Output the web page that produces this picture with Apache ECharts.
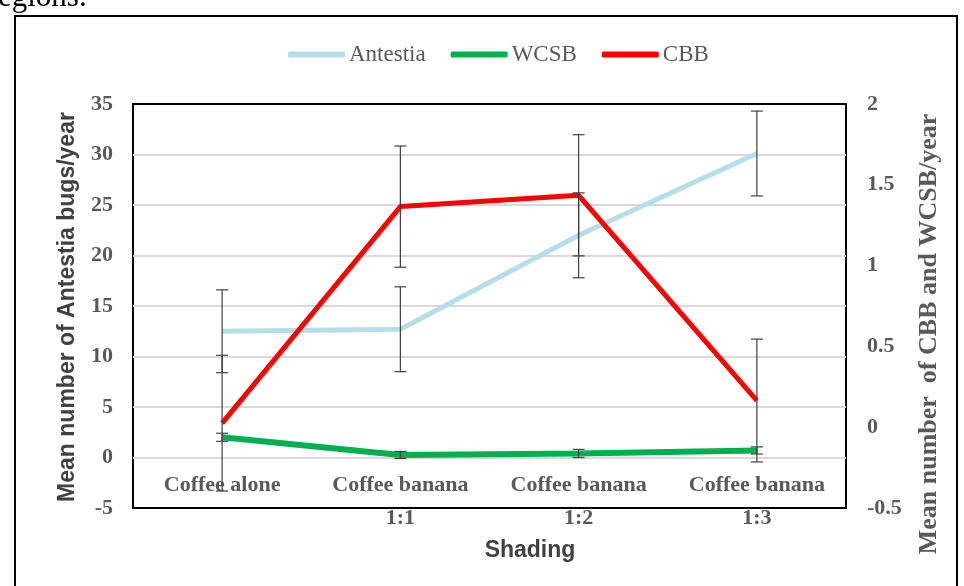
<!DOCTYPE html>
<html>
<head>
<meta charset="utf-8">
<script src="https://cdn.jsdelivr.net/npm/echarts@6/dist/echarts.min.js"></script>
<style>
html, body { margin: 0; padding: 0; background: #fff; }
#main { width: 964px; height: 586px; }
</style>
</head>
<body>
<div id="main"></div>
<script>
// data
var categories = ['Coffee alone', 'Coffee banana\n1:1', 'Coffee banana\n1:2', 'Coffee banana\n1:3'];
var antestia = [12.5, 12.7, 22.0, 30.1];
var antestiaErr = [4.1, 4.2, 4.2, 4.2];
var wcsb = [2.0, 0.25, 0.4, 0.7];
var wcsbErr = [0.4, 0.35, 0.4, 0.35];
var cbb = [0.025, 1.365, 1.435, 0.165];
var cbbErr = [0.42, 0.375, 0.375, 0.38];
var leftMin = -5, leftMax = 35, leftStep = 5;
var rightMin = -0.5, rightMax = 2, rightStep = 0.5;

var gray = '#595959';
var serif = 'Liberation Serif';

function errData(vals, errs) {
    return vals.map(function (v, i) {
        return [i, v - errs[i], v + errs[i]];
    });
}

function drawErr(params, api) {
    var x = api.value(0);
    var lo = api.coord([x, api.value(1)]);
    var hi = api.coord([x, api.value(2)]);
    var w = 6;
    var st = { stroke: '#404040', lineWidth: 1.2 };
    return {
        type: 'group',
        children: [
            { type: 'line', shape: { x1: lo[0], y1: lo[1], x2: hi[0], y2: hi[1] }, style: st },
            { type: 'line', shape: { x1: hi[0] - w, y1: hi[1], x2: hi[0] + w, y2: hi[1] }, style: st },
            { type: 'line', shape: { x1: lo[0] - w, y1: lo[1], x2: lo[0] + w, y2: lo[1] }, style: st }
        ]
    };
}

function errSeries(vals, errs, axis) {
    return {
        type: 'custom',
        yAxisIndex: axis,
        renderItem: drawErr,
        encode: { x: 0, y: [1, 2] },
        data: errData(vals, errs),
        z: 5,
        silent: true
    };
}

function lineSeries(name, vals, color, axis, width) {
    return {
        name: name,
        type: 'line',
        yAxisIndex: axis,
        data: vals,
        showSymbol: false,
        symbol: 'none',
        lineStyle: { color: color, width: width },
        itemStyle: { color: color },
        z: 3
    };
}

var chart = echarts.init(document.getElementById('main'));

var option = {
    animation: false,
    backgroundColor: '#fff',
    grid: {
        left: 133, right: 118, top: 104, bottom: 78,
        show: true, borderColor: '#000', borderWidth: 2
    },
    legend: {
        data: ['Antestia', 'WCSB', 'CBB'],
        left: 283, top: 38,
        icon: 'roundRect',
        itemWidth: 57, itemHeight: 6,
        itemGap: 25,
        textStyle: { fontFamily: serif, fontSize: 23, color: gray, padding: [0, 0, 0, -1] }
    },
    xAxis: {
        type: 'category',
        data: categories,
        boundaryGap: true,
        axisLine: { show: false },
        axisTick: { show: false },
        axisLabel: {
            interval: 0,
            // labels sit just under the zero line, as in the original
            margin: -39,
            fontFamily: serif, fontWeight: 'bold', fontSize: 22, color: gray,
            lineHeight: 33
        },
        splitLine: { show: false }
    },
    yAxis: [
        {
            type: 'value',
            min: leftMin, max: leftMax, interval: leftStep,
            axisLine: { show: false },
            axisTick: { show: false },
            axisLabel: { margin: 20, fontFamily: serif, fontWeight: 'bold', fontSize: 22, color: gray },
            splitLine: { show: true, showMinLine: false, showMaxLine: false, lineStyle: { color: '#d9d9d9', width: 2 } }
        },
        {
            type: 'value',
            min: rightMin, max: rightMax, interval: rightStep,
            axisLine: { show: false },
            axisTick: { show: false },
            axisLabel: { margin: 21, fontFamily: serif, fontWeight: 'bold', fontSize: 22, color: gray },
            splitLine: { show: false }
        }
    ],
    series: [
        lineSeries('Antestia', antestia, '#b7dee8', 0, 5),
        lineSeries('WCSB', wcsb, '#00b050', 0, 6),
        lineSeries('CBB', cbb, '#ff0000', 1, 5),
        errSeries(antestia, antestiaErr, 0),
        errSeries(wcsb, wcsbErr, 0),
        errSeries(cbb, cbbErr, 1)
    ],
    graphic: [
        {
            type: 'rect',
            shape: { x: 15, y: 16, width: 942, height: 600 },
            style: { fill: 'none', stroke: '#000', lineWidth: 2 },
            z: 10
        },
        {
            type: 'text', x: -2, y: 13,
            style: { text: 'egions.', font: '31px "Liberation Serif"', fill: '#000', verticalAlign: 'bottom' }
        },
        {
            type: 'text', x: 68, y: 307, rotation: Math.PI / 2,
            style: {
                text: 'Mean number of Antestia bugs/year',
                font: 'bold 23px "Liberation Sans"', fill: '#404040',
                align: 'center', verticalAlign: 'middle'
            }
        },
        {
            type: 'text', x: 929, y: 334, rotation: Math.PI / 2,
            style: {
                text: 'Mean number  of CBB and WCSB/year',
                font: 'bold 26px "Liberation Serif"', fill: gray,
                align: 'center', verticalAlign: 'middle'
            }
        },
        {
            type: 'text', x: 530, y: 551,
            style: {
                text: 'Shading',
                font: 'bold 23px "Liberation Sans"', fill: '#404040',
                align: 'center', verticalAlign: 'middle'
            }
        }
    ]
};

chart.setOption(option);
</script>
</body>
</html>
